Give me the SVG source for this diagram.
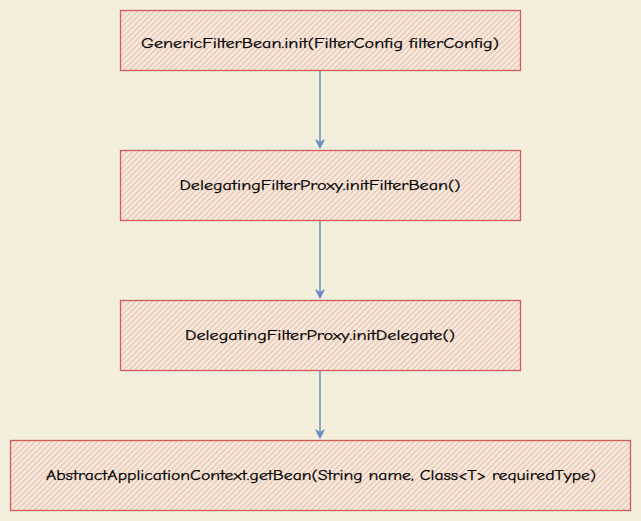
<svg xmlns="http://www.w3.org/2000/svg" width="641" height="521" viewBox="0 0 641 521">
<defs>
<pattern id="hatch" width="4" height="4" patternUnits="userSpaceOnUse" patternTransform="rotate(-45)">
<rect width="4" height="4" fill="#f4efdd"/>
<line x1="0" y1="1" x2="4" y2="1" stroke="#f0b9b3" stroke-width="1.3"/>
</pattern>
<style>
.box{fill:url(#hatch);stroke:#cf5b5b;stroke-width:1.3}
.lbl{font-family:"Comic Sans MS","Comic Neue","Liberation Sans",sans-serif;font-size:14px;fill:#000;stroke:#000;stroke-width:0.25;text-anchor:middle}
.edge{stroke:#6c8ebf;stroke-width:1.5;fill:none}
.head{fill:#6c8ebf;stroke:#6c8ebf;stroke-width:1.2;stroke-linejoin:round}
</style>
</defs>
<rect width="641" height="521" fill="#f4efdd"/>
<g id="edges">
<path class="edge" d="M320,71 L320,144"/>
<path class="head" d="M316,140 L320,148 L324,140 L320,143 Z"/>
<path class="edge" d="M320,221 L320,294"/>
<path class="head" d="M316,290 L320,298 L324,290 L320,293 Z"/>
<path class="edge" d="M320,371 L320,434"/>
<path class="head" d="M316,430 L320,438 L324,430 L320,433 Z"/>
</g>
<g id="n1">
<rect class="box" x="120.5" y="10.5" width="400" height="60"/>
<text class="lbl" x="320" y="48" textLength="358" lengthAdjust="spacingAndGlyphs">GenericFilterBean.init(FilterConfig filterConfig)</text>
</g>
<g id="n2">
<rect class="box" x="120.5" y="150.5" width="400" height="70"/>
<text class="lbl" x="320" y="190" textLength="281" lengthAdjust="spacingAndGlyphs">DelegatingFilterProxy.initFilterBean()</text>
</g>
<g id="n3">
<rect class="box" x="120.5" y="300.5" width="400" height="70"/>
<text class="lbl" x="320" y="340" textLength="270" lengthAdjust="spacingAndGlyphs">DelegatingFilterProxy.initDelegate()</text>
</g>
<g id="n4">
<rect class="box" x="10.5" y="440.5" width="620" height="70"/>
<text class="lbl" x="321" y="480" textLength="550" lengthAdjust="spacingAndGlyphs">AbstractApplicationContext.getBean(String name, Class&lt;T&gt; requiredType)</text>
</g>
</svg>
